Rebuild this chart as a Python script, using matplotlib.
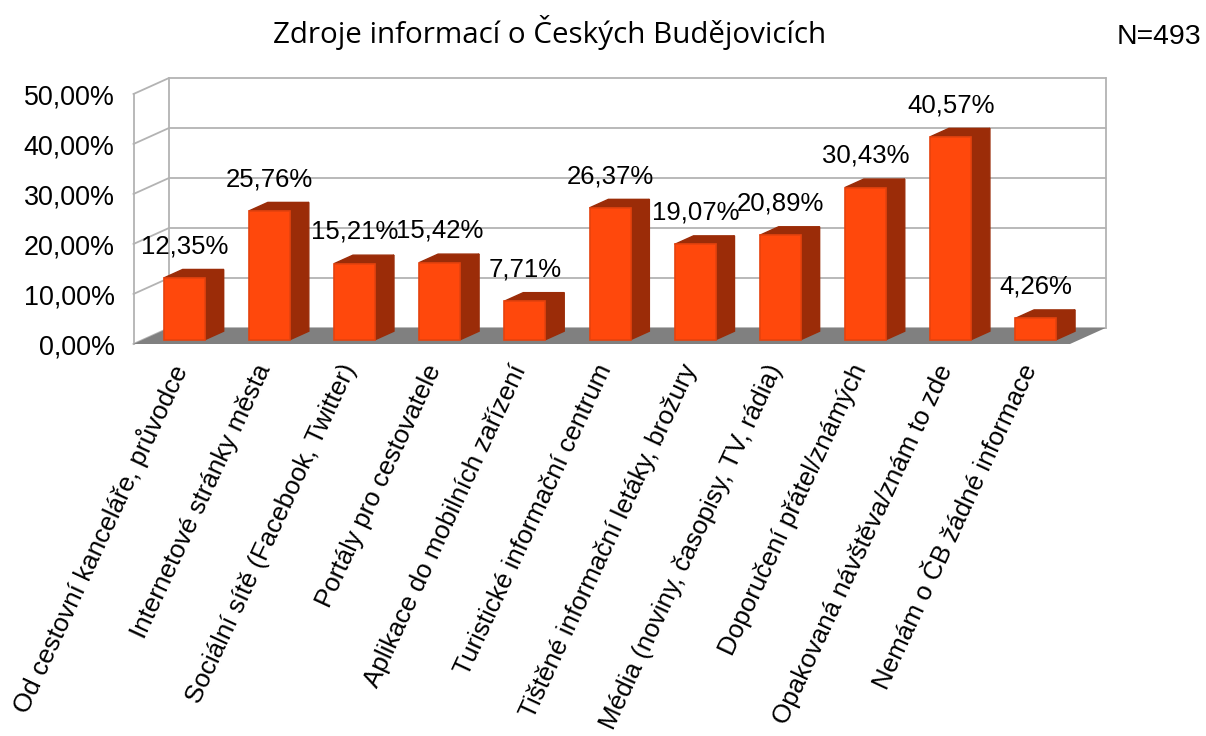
import matplotlib
matplotlib.use("Agg")
import matplotlib.pyplot as plt
from matplotlib.transforms import ScaledTranslation

categories = [
    "Od cestovní kanceláře, průvodce",
    "Internetové stránky města",
    "Sociální sítě (Facebook, Twitter)",
    "Portály pro cestovatele",
    "Aplikace do mobilních zařízení",
    "Turistické informační centrum",
    "Tištěné informační letáky, brožury",
    "Média (noviny, časopisy, TV, rádia)",
    "Doporučení přátel/známých",
    "Opakovaná návštěva/znám to zde",
    "Nemám o ČB žádné informace",
]
values = [12.35, 25.76, 15.21, 15.42, 7.71, 26.37, 19.07, 20.89, 30.43, 40.57, 4.26]
y_ticks = [0, 10, 20, 30, 40, 50]

W, H = 1206, 736
LEFT, RIGHT, BOTTOM, TOP = 133.5, 1070.0, 344.0, 94.0

# depth of the fake 3d box, in data units (category steps / percent)
DX = 35.5 / ((RIGHT - LEFT) / len(categories))
DY = 16 / ((BOTTOM - TOP) / 50)

GRID = "#b3b3b3"
FRONT = "#ff480c"
EDGE = "#e5420e"
SIDE = "#9b2c08"


def project(x, v, d):
    return x + DX * d, v + DY * d


plt.rcParams["font.family"] = ["Liberation Sans", "DejaVu Sans"]
fig = plt.figure(figsize=(W / 100, H / 100), dpi=100)
ax = fig.add_axes([LEFT / W, 1 - BOTTOM / H, (RIGHT - LEFT) / W, (BOTTOM - TOP) / H])
ax.set_xlim(0, len(categories))
ax.set_ylim(0, 50)
for s in ax.spines.values():
    s.set_visible(False)

n = len(categories)

# walls and grid
for t in y_ticks:
    x0, y0 = project(0, t, 0)
    x1, y1 = project(0, t, 1)
    x2, y2 = project(n, t, 1)
    ax.plot([x0, x1, x2], [y0, y1, y2], color=GRID, lw=1.3, clip_on=False, zorder=1)
for x, d0 in [(0, 0), (0, 1), (n, 1)]:
    xb, yb = project(x, 0, d0)
    xt, yt = project(x, 50, d0)
    ax.plot([xb, xt], [yb, yt], color=GRID, lw=1.3, clip_on=False, zorder=1)

# floor
floor = [project(0, 0, 0), project(n, 0, 0), project(n, 0, 1), project(0, 0, 1)]
ax.fill(*zip(*floor), color="#808080", lw=0, clip_on=False, zorder=2)

# bars
BAR_W = 41 / ((RIGHT - LEFT) / n)
D0, D1 = 0.27, 0.8
for i, v in enumerate(values):
    xl = i + 0.5 - BAR_W / 2 - 0.015
    xr = xl + BAR_W
    side = [project(xr, 0, D0), project(xr, 0, D1), project(xr, v, D1), project(xr, v, D0)]
    top = [project(xl, v, D0), project(xr, v, D0), project(xr, v, D1), project(xl, v, D1)]
    ax.fill(*zip(*side), color=SIDE, lw=1, zorder=3 + i * 0.01, clip_on=False)
    ax.fill(*zip(*top), color=SIDE, lw=1, zorder=3 + i * 0.01, clip_on=False)
    fx, fy = project(xl, 0, D0)
    ax.bar(fx, v, BAR_W, bottom=fy, align="edge", color=FRONT, edgecolor=EDGE, lw=1.2,
           zorder=3.5 + i * 0.01, clip_on=False)
    ax.text(i + 0.6, v + 7.2, f"{v:.2f}%".replace(".", ","), ha="center", va="center",
            fontsize=18.5, color="black", zorder=5)

ax.set_yticks(y_ticks)
ax.set_yticklabels([f"{t:.2f}%".replace(".", ",") for t in y_ticks], fontsize=19.4)
ax.set_xticks([i + 0.5 for i in range(n)])
ax.set_xticklabels(categories, fontsize=18.7, rotation=65, ha="right", va="top",
                   rotation_mode="anchor")
ax.tick_params(axis="both", length=0)
ax.tick_params(axis="y", pad=13.5)
ax.tick_params(axis="x", pad=12)
shift = ScaledTranslation(-7 / 100, 0, fig.dpi_scale_trans)
for lab in ax.get_xticklabels():
    lab.set_transform(lab.get_transform() + shift)

fig.text(550 / W, 1 - 33 / H, "Zdroje informací o Českých Budějovicích", ha="center", va="center",
         fontsize=21.3, family="Open Sans")
fig.text(1158.5 / W, 1 - 37 / H, "N=493", ha="center", va="center", fontsize=20.4)

fig.savefig("out.png", dpi=100)
